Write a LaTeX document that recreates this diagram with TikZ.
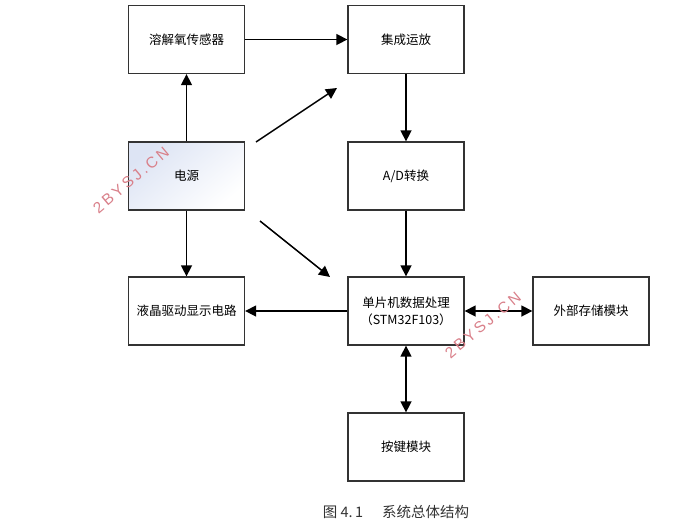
\documentclass[tikz,border=0pt]{standalone}
\usepackage{fontspec}
\setmainfont{Liberation Sans}
\newfontfamily\cjk{Noto Sans CJK SC}
\newfontfamily\wmfont[LetterSpace=18]{Liberation Sans}
\usetikzlibrary{arrows.meta,shadings}
\definecolor{boxline}{HTML}{333333}
\definecolor{wmred}{HTML}{D9808A}
\definecolor{pshade}{HTML}{DDE4F4}
\tikzset{
  blk/.style={draw=boxline, line width=1.3pt, minimum width=116pt, minimum height=68pt, inner sep=0pt, align=center, font=\cjk\fontsize{12.5}{17}\selectfont, text=black},
  arr/.style={line width=1.5pt, -{Triangle[length=11pt,width=11pt]}},
  darr/.style={line width=1.5pt, {Triangle[length=11pt,width=11pt]}-{Triangle[length=11pt,width=11pt]}},
  wm/.style={text=wmred, font=\wmfont\fontsize{15.5}{15.5}\selectfont, rotate=40}
}
\begin{document}
\begin{tikzpicture}[x=1pt,y=-1pt]
\useasboundingbox (0,0) rectangle (700,523);
\node[blk] (sensor) at (186.5,39.5) {溶解氧传感器};
\node[blk] (amp) at (406,39.5) {集成运放};
\node[blk, shading=axis, top color=pshade, bottom color=white, shading angle=40] (power) at (186.5,176) {电源};
\node[blk] (adc) at (406,176) {A/D转换};
\node[blk] (lcd) at (186.5,311) {液晶驱动显示电路};
\node[blk] (mcu) at (406,311) {单片机数据处理\\（STM32F103）};
\node[blk] (mem) at (591,311) {外部存储模块};
\node[blk] (key) at (406,447) {按键模块};
\node[font=\cjk\fontsize{14.5}{14.5}\selectfont, text=black!80] (cap) at (396,512) {图 4.\,1\hspace{1.3em}系统总体结构};
\coordinate (d1s) at (256,142);
\coordinate (d1e) at (337,88);
\coordinate (d2s) at (260,221);
\coordinate (d2e) at (330,277);
\draw[arr] (sensor) -- (amp);
\draw[arr] (power) -- (sensor);
\draw[arr] (d1s) -- (d1e);
\draw[arr] (amp) -- (adc);
\draw[arr] (adc) -- (mcu);
\draw[arr] (power) -- (lcd);
\draw[arr] (d2s) -- (d2e);
\draw[arr] (mcu) -- (lcd);
\draw[darr] (mcu) -- (mem);
\draw[darr] (mcu) -- (key);
\node[wm] (wm1) at (131,180) {2BYSJ.CN};
\node[wm] (wm2) at (483,325) {2BYSJ.CN};
\end{tikzpicture}
\end{document}
